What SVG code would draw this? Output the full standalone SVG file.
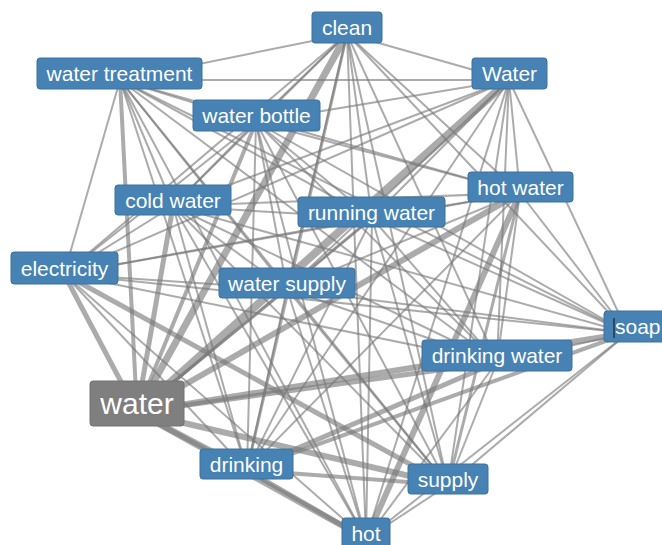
<svg xmlns="http://www.w3.org/2000/svg" width="662" height="545" viewBox="0 0 662 545">
<style>
.e{stroke:#777;stroke-opacity:0.62;stroke-width:2;fill:none}
.n rect{fill:#4682b4;stroke:#3d719d;stroke-width:1}
.n text{fill:#fff;font-family:"Liberation Sans",Arial,sans-serif;font-size:21px;text-anchor:middle}
#n-water rect{fill:#7f7f7f;stroke:#727272}
#n-water text{font-size:30px}
</style>
<rect width="662" height="545" fill="#fff"/>
<g id="connectors">
<!-- A clean -->
<line class="e" x1="347" y1="34" x2="120" y2="80"/>
<line class="e" x1="347" y1="34" x2="509" y2="80"/>
<line class="e" x1="347" y1="34" x2="256" y2="122"/>
<line class="e" x1="347" y1="34" x2="173" y2="206"/>
<line class="e" x1="347" y1="34" x2="372" y2="218"/>
<line class="e" x1="347" y1="34" x2="520" y2="193"/>
<line class="e" x1="347" y1="34" x2="64" y2="274"/>
<line class="e" x1="347" y1="34" x2="287" y2="289"/>
<line class="e" x1="347" y1="34" x2="628" y2="333"/>
<line class="e" x1="347" y1="34" x2="497" y2="362"/>
<line class="e" x1="347" y1="34" x2="137" y2="412" style="stroke-width:7"/>
<line class="e" x1="347" y1="34" x2="247" y2="470" style="stroke-width:3"/>
<line class="e" x1="347" y1="34" x2="448" y2="485"/>
<line class="e" x1="347" y1="34" x2="366" y2="539"/>
<!-- B water treatment -->
<line class="e" x1="120" y1="80" x2="509" y2="80"/>
<line class="e" x1="120" y1="80" x2="256" y2="122"/>
<line class="e" x1="120" y1="80" x2="173" y2="206"/>
<line class="e" x1="120" y1="80" x2="372" y2="218"/>
<line class="e" x1="120" y1="80" x2="520" y2="193"/>
<line class="e" x1="120" y1="80" x2="64" y2="274"/>
<line class="e" x1="120" y1="80" x2="287" y2="289"/>
<line class="e" x1="120" y1="80" x2="628" y2="333"/>
<line class="e" x1="120" y1="80" x2="497" y2="362"/>
<line class="e" x1="120" y1="80" x2="137" y2="412" style="stroke-width:4"/>
<line class="e" x1="120" y1="80" x2="247" y2="470"/>
<line class="e" x1="120" y1="80" x2="448" y2="485"/>
<line class="e" x1="120" y1="80" x2="366" y2="539"/>
<!-- C Water -->
<line class="e" x1="509" y1="80" x2="256" y2="122"/>
<line class="e" x1="509" y1="80" x2="173" y2="206"/>
<line class="e" x1="509" y1="80" x2="372" y2="218"/>
<line class="e" x1="509" y1="80" x2="520" y2="193"/>
<line class="e" x1="509" y1="80" x2="64" y2="274"/>
<line class="e" x1="509" y1="80" x2="287" y2="289"/>
<line class="e" x1="509" y1="80" x2="628" y2="333"/>
<line class="e" x1="509" y1="80" x2="497" y2="362"/>
<line class="e" x1="509" y1="80" x2="137" y2="412" style="stroke-width:8"/>
<line class="e" x1="509" y1="80" x2="247" y2="470"/>
<line class="e" x1="509" y1="80" x2="448" y2="485"/>
<line class="e" x1="509" y1="80" x2="366" y2="539"/>
<!-- D water bottle -->
<line class="e" x1="256" y1="122" x2="173" y2="206"/>
<line class="e" x1="256" y1="122" x2="372" y2="218"/>
<line class="e" x1="256" y1="122" x2="520" y2="193"/>
<line class="e" x1="256" y1="122" x2="64" y2="274"/>
<line class="e" x1="256" y1="122" x2="287" y2="289"/>
<line class="e" x1="256" y1="122" x2="628" y2="333"/>
<line class="e" x1="256" y1="122" x2="497" y2="362"/>
<line class="e" x1="256" y1="122" x2="137" y2="412" style="stroke-width:4"/>
<line class="e" x1="256" y1="122" x2="247" y2="470"/>
<line class="e" x1="256" y1="122" x2="448" y2="485"/>
<line class="e" x1="256" y1="122" x2="366" y2="539"/>
<!-- E cold water -->
<line class="e" x1="173" y1="206" x2="372" y2="218"/>
<line class="e" x1="173" y1="206" x2="520" y2="193"/>
<line class="e" x1="173" y1="206" x2="64" y2="274"/>
<line class="e" x1="173" y1="206" x2="287" y2="289"/>
<line class="e" x1="173" y1="206" x2="628" y2="333"/>
<line class="e" x1="173" y1="206" x2="497" y2="362"/>
<line class="e" x1="173" y1="206" x2="137" y2="412" style="stroke-width:5"/>
<line class="e" x1="173" y1="206" x2="247" y2="470"/>
<line class="e" x1="173" y1="206" x2="448" y2="485"/>
<line class="e" x1="173" y1="206" x2="366" y2="539"/>
<!-- F running water -->
<line class="e" x1="372" y1="218" x2="520" y2="193"/>
<line class="e" x1="372" y1="218" x2="64" y2="274"/>
<line class="e" x1="372" y1="218" x2="287" y2="289"/>
<line class="e" x1="372" y1="218" x2="628" y2="333"/>
<line class="e" x1="372" y1="218" x2="497" y2="362"/>
<line class="e" x1="372" y1="218" x2="137" y2="412" style="stroke-width:3"/>
<line class="e" x1="372" y1="218" x2="247" y2="470"/>
<line class="e" x1="372" y1="218" x2="448" y2="485"/>
<line class="e" x1="372" y1="218" x2="366" y2="539"/>
<!-- G hot water -->
<line class="e" x1="520" y1="193" x2="64" y2="274"/>
<line class="e" x1="520" y1="193" x2="287" y2="289"/>
<line class="e" x1="520" y1="193" x2="628" y2="333"/>
<line class="e" x1="520" y1="193" x2="497" y2="362"/>
<line class="e" x1="520" y1="193" x2="137" y2="412" style="stroke-width:6"/>
<line class="e" x1="520" y1="193" x2="247" y2="470"/>
<line class="e" x1="520" y1="193" x2="448" y2="485" style="stroke-width:3"/>
<line class="e" x1="520" y1="193" x2="366" y2="539" style="stroke-width:6"/>
<!-- H electricity -->
<line class="e" x1="64" y1="274" x2="287" y2="289"/>
<line class="e" x1="64" y1="274" x2="628" y2="333"/>
<line class="e" x1="64" y1="274" x2="497" y2="362"/>
<line class="e" x1="64" y1="274" x2="137" y2="412" style="stroke-width:5"/>
<line class="e" x1="64" y1="274" x2="247" y2="470"/>
<line class="e" x1="64" y1="274" x2="448" y2="485" style="stroke-width:5"/>
<line class="e" x1="64" y1="274" x2="366" y2="539"/>
<!-- I water supply -->
<line class="e" x1="287" y1="289" x2="628" y2="333"/>
<line class="e" x1="287" y1="289" x2="497" y2="362"/>
<line class="e" x1="287" y1="289" x2="137" y2="412" style="stroke-width:3"/>
<line class="e" x1="287" y1="289" x2="247" y2="470"/>
<line class="e" x1="287" y1="289" x2="448" y2="485"/>
<line class="e" x1="287" y1="289" x2="366" y2="539"/>
<!-- J soap -->
<line class="e" x1="628" y1="333" x2="497" y2="362"/>
<line class="e" x1="628" y1="333" x2="137" y2="412" style="stroke-width:6"/>
<line class="e" x1="628" y1="333" x2="247" y2="470" style="stroke-width:4"/>
<line class="e" x1="628" y1="333" x2="448" y2="485"/>
<line class="e" x1="628" y1="333" x2="366" y2="539"/>
<!-- K drinking water -->
<line class="e" x1="497" y1="362" x2="137" y2="412" style="stroke-width:5"/>
<line class="e" x1="497" y1="362" x2="247" y2="470" style="stroke-width:5"/>
<line class="e" x1="497" y1="362" x2="448" y2="485"/>
<line class="e" x1="497" y1="362" x2="366" y2="539"/>
<!-- L water -->
<line class="e" x1="137" y1="412" x2="247" y2="470" style="stroke-width:6"/>
<line class="e" x1="137" y1="412" x2="448" y2="485" style="stroke-width:6"/>
<line class="e" x1="137" y1="412" x2="366" y2="539" style="stroke-width:6"/>
<!-- M drinking -->
<line class="e" x1="247" y1="470" x2="448" y2="485" style="stroke-width:4"/>
<line class="e" x1="247" y1="470" x2="366" y2="539" style="stroke-width:5"/>
<!-- N supply -->
<line class="e" x1="448" y1="485" x2="366" y2="539"/>
</g>
<g id="n-clean" class="n"><rect x="312" y="12" width="70" height="31" rx="3"/><text x="347" y="35">clean</text></g>
<g id="n-water-treatment" class="n"><rect x="37" y="58" width="165" height="31" rx="3"/><text x="119.5" y="81">water treatment</text></g>
<g id="n-Water" class="n"><rect x="472" y="58" width="75" height="31" rx="3"/><text x="509.5" y="81">Water</text></g>
<g id="n-water-bottle" class="n"><rect x="193" y="100" width="127" height="31" rx="3"/><text x="256.5" y="123">water bottle</text></g>
<g id="n-cold-water" class="n"><rect x="115" y="185" width="116" height="30" rx="3"/><text x="173" y="207.5">cold water</text></g>
<g id="n-running-water" class="n"><rect x="298" y="197" width="147" height="30" rx="3"/><text x="371.5" y="219.5">running water</text></g>
<g id="n-hot-water" class="n"><rect x="468" y="172" width="105" height="30" rx="3"/><text x="520.5" y="194.5">hot water</text></g>
<g id="n-electricity" class="n"><rect x="11" y="252" width="107" height="32" rx="3"/><text x="64.5" y="275.5">electricity</text></g>
<g id="n-water-supply" class="n"><rect x="219" y="268" width="136" height="30" rx="3"/><text x="287" y="290.5">water supply</text></g>
<g id="n-soap" class="n"><rect x="604" y="311" width="64" height="31" rx="3"/><text x="615" y="334" style="text-anchor:start">soap</text><line x1="614" y1="318" x2="614" y2="338" stroke="#2a3440" stroke-width="1.5"/></g>
<g id="n-drinking-water" class="n"><rect x="422" y="340" width="150" height="31" rx="3"/><text x="497" y="363">drinking water</text></g>
<g id="n-water" class="n"><rect x="90" y="381" width="94" height="45" rx="3"/><text x="137" y="414">water</text></g>
<g id="n-drinking" class="n"><rect x="200" y="449" width="93" height="30" rx="3"/><text x="246.5" y="471.5">drinking</text></g>
<g id="n-supply" class="n"><rect x="408" y="464" width="80" height="30" rx="3"/><text x="448" y="486.5">supply</text></g>
<g id="n-hot" class="n"><rect x="342" y="518" width="48" height="30" rx="3"/><text x="366" y="540.5">hot</text></g>
</svg>
